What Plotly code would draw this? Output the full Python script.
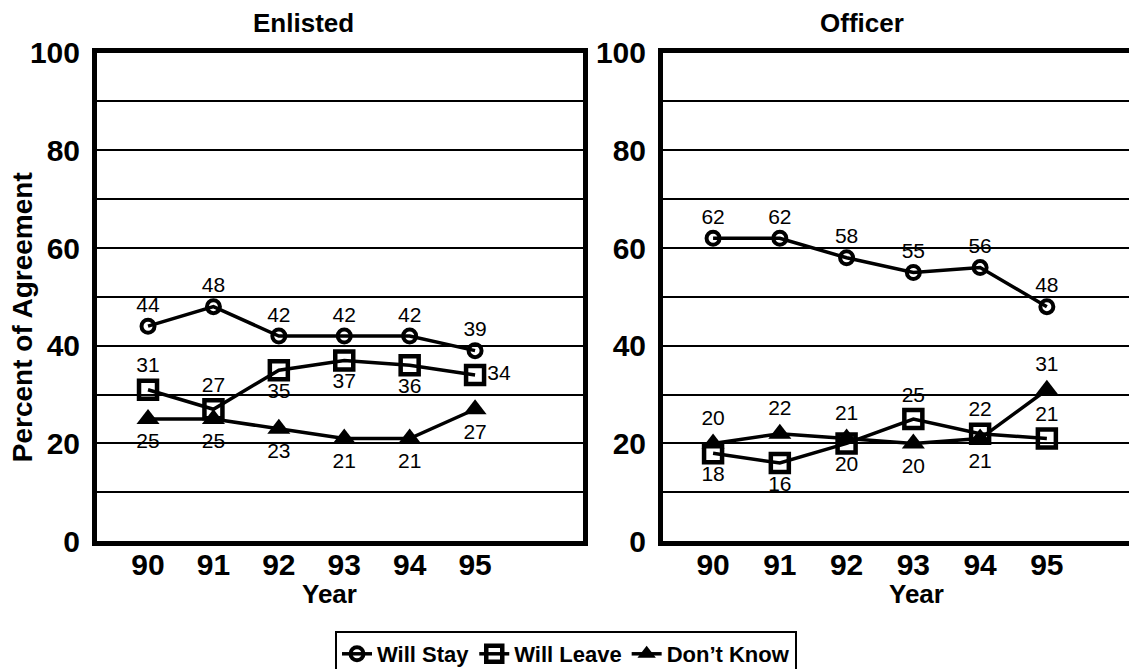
import plotly.graph_objects as go
from plotly.subplots import make_subplots

years = [90, 91, 92, 93, 94, 95]
series_names = ["Will Stay", "Will Leave", "Don’t Know"]

enl_stay = [44, 48, 42, 42, 42, 39]
enl_leave = [31, 27, 35, 37, 36, 34]
enl_dk = [25, 25, 23, 21, 21, 27]

off_stay = [62, 62, 58, 55, 56, 48]
off_leave = [18, 16, 20, 25, 22, 21]
off_dk = [20, 22, 21, 20, 21, 31]

panel_titles = ["Enlisted", "Officer"]
y_ticks = [0, 20, 40, 60, 80, 100]

# label placement per point
enl_pos = [
    ["top center"] * 6,
    ["top center", "top center", "bottom center", "bottom center", "bottom center", "middle right"],
    ["bottom center"] * 6,
]
off_pos = [
    ["top center"] * 6,
    ["bottom center", "bottom center", "bottom center", "top center", "top center", "top center"],
    ["top center", "top center", "top center", "bottom center", "bottom center", "top center"],
]

FONT = "Liberation Sans, Arial, sans-serif"
NARROW = "Liberation Sans Narrow, Arial Narrow, Liberation Sans, sans-serif"

W, H = 1137, 669
OFF = 8  # page body margin


def px(xs):
    return (xs - OFF) / W


def py(ys):
    return 1 - (ys - OFF) / H


marker_styles = [
    dict(symbol="circle-open", size=13, line=dict(width=4, color="black"), color="black"),
    dict(symbol="square-open", size=18, line=dict(width=4.5, color="black"), color="black"),
    dict(symbol="triangle-up", size=20, color="black", line=dict(width=0)),
]

fig = make_subplots(rows=1, cols=2)

for col, (data, pos) in enumerate([((enl_stay, enl_leave, enl_dk), enl_pos),
                                    ((off_stay, off_leave, off_dk), off_pos)], start=1):
    for i, (vals, name) in enumerate(zip(data, series_names)):
        fig.add_trace(go.Scatter(
            x=years, y=vals, name=name,
            mode="lines+markers+text",
            text=[str(v) for v in vals],
            textposition=pos[i],
            textfont=dict(family=FONT, size=21, color="black"),
            line=dict(color="black", width=3.5),
            marker=marker_styles[i],
            showlegend=(col == 1),
            cliponaxis=False,
        ), row=1, col=col)

axis_common = dict(
    showline=True, linewidth=5, linecolor="black", mirror=True,
    zeroline=False,
)
fig.update_xaxes(
    tickvals=years, ticktext=[str(y) for y in years],
    tickfont=dict(family=NARROW, size=30, color="black", weight="bold"),
    showgrid=False, ticks="", ticklabelstandoff=-7,
    **axis_common,
)
fig.update_yaxes(
    range=[0, 100], tickvals=y_ticks,
    tickfont=dict(family=NARROW, size=30, color="black", weight="bold"),
    showgrid=True, gridcolor="black", gridwidth=2.2, ticks="",
    minor=dict(dtick=10, showgrid=True, gridcolor="black", gridwidth=2.2),
    ticklabelstandoff=6,
    **axis_common,
)

title_font = dict(family=FONT, size=26, color="black", weight="bold")
fig.update_layout(
    width=W, height=H,
    margin=dict(l=0, r=0, t=0, b=0),
    paper_bgcolor="white", plot_bgcolor="white",
    font=dict(family=FONT, color="black"),
    xaxis=dict(domain=[px(97), px(583)], range=[89.22, 96.65], automargin=False),
    xaxis2=dict(domain=[px(663), 1.0], range=[89.25, 96.47], automargin=False),
    yaxis=dict(domain=[py(546), py(53)], automargin=False),
    yaxis2=dict(domain=[py(546), py(53)], automargin=False),
    legend=dict(
        orientation="h", x=px(335), xanchor="left", y=py(637), yanchor="top",
        bordercolor="black", borderwidth=2, bgcolor="white",
        font=dict(family=FONT, size=22, color="black", weight="bold"),
        itemwidth=30, tracegroupgap=0,
    ),
    annotations=[
        dict(text=panel_titles[0], x=px(303), xref="paper", y=py(23), yref="paper",
             xanchor="center", yanchor="middle", showarrow=False, font=title_font),
        dict(text=panel_titles[1], x=px(862), xref="paper", y=py(23), yref="paper",
             xanchor="center", yanchor="middle", showarrow=False, font=title_font),
        dict(text="Year", x=px(329), xref="paper", y=py(599), yref="paper",
             xanchor="center", yanchor="middle", showarrow=False,
             font=dict(family=FONT, size=26, color="black", weight="bold")),
        dict(text="Year", x=px(917), xref="paper", y=py(599), yref="paper",
             xanchor="center", yanchor="middle", showarrow=False,
             font=dict(family=FONT, size=26, color="black", weight="bold")),
        dict(text="Percent of Agreement", x=px(22), xref="paper", y=py(320), yref="paper",
             xanchor="center", yanchor="middle", textangle=-90, showarrow=False,
             font=dict(family=FONT, size=28, color="black", weight="bold")),
    ],
)

fig.write_html("out.html")
